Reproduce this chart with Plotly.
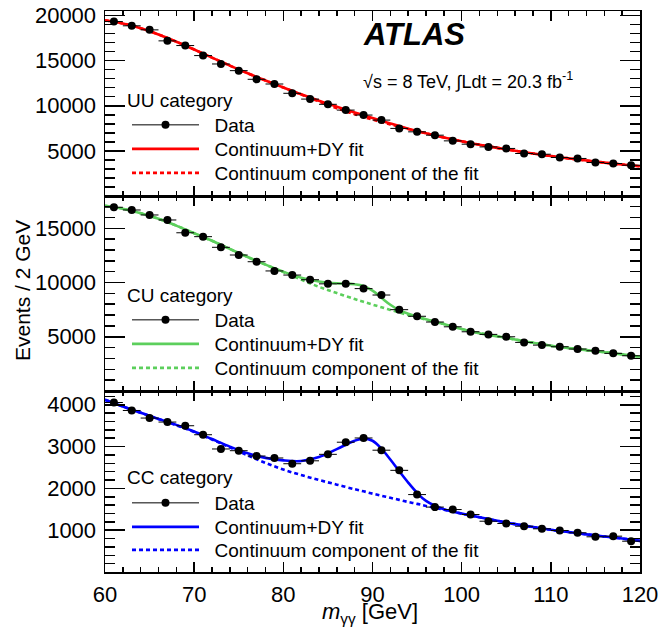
import plotly.graph_objects as go
from plotly.subplots import make_subplots

# ---------------- data ----------------
mass = [61, 63, 65, 67, 69, 71, 73, 75, 77, 79, 81, 83, 85, 87, 89,
        91, 93, 95, 97, 99, 101, 103, 105, 107, 109, 111, 113, 115, 117, 119]

uu_data = [19330, 18860, 18410, 17190, 16670, 15560, 14630, 13890, 12930, 12410,
           11380, 10740, 10160, 9520, 8970, 8410, 7490, 7110, 6740, 6110,
           5740, 5440, 5270, 4710, 4630, 4270, 4160, 3710, 3600, 3410]
cu_data = [16940, 16690, 16230, 15770, 14590, 14230, 13250, 12540, 11920, 11070,
           10690, 10260, 9880, 9900, 9440, 8850, 7500, 6890, 6360, 5920,
           5460, 5220, 5000, 4480, 4230, 4080, 3870, 3710, 3470, 3250]
cc_data = [4055, 3864, 3683, 3587, 3499, 3284, 2943, 2902, 2775, 2728,
           2590, 2660, 2815, 3105, 3206, 2914, 2432, 1852, 1553, 1494,
           1375, 1215, 1160, 1095, 1033, 993, 938, 842, 857, 737]

fit_mass = [60, 62, 64, 66, 68, 70, 72, 74, 76, 78, 80, 82, 84, 86, 88,
            89, 90, 91, 92, 93, 94, 95, 96,
            98, 100, 102, 104, 106, 108, 110, 112, 114, 116, 118, 120]

uu_fit = [19480, 19120, 18600, 17900, 17100, 16230, 15330, 14450, 13600, 12800,
          12030, 11270, 10560, 9900, 9260, 8950, 8640, 8340, 8040, 7750, 7460, 7200, 6950,
          6480, 6060, 5680, 5330, 5010, 4710, 4430, 4170, 3930, 3700, 3490, 3290]
uu_cont = [19480, 19120, 18600, 17900, 17100, 16230, 15330, 14450, 13600, 12800,
           12030, 11240, 10480, 9720, 9060, 8760, 8470, 8200, 7930, 7670, 7420, 7180, 6950,
           6480, 6060, 5680, 5330, 5010, 4710, 4430, 4170, 3930, 3700, 3490, 3290]

cu_fit = [17080, 16800, 16400, 15880, 15250, 14550, 13850, 13100, 12350, 11650,
          11000, 10450, 10100, 9930, 9850, 9680, 9250, 8600, 7950, 7450, 7120, 6860, 6620,
          6170, 5720, 5330, 5050, 4750, 4450, 4170, 3960, 3770, 3580, 3380, 3160]
cu_cont = [17080, 16800, 16400, 15880, 15250, 14550, 13850, 13100, 12350, 11650,
           10960, 10270, 9600, 9030, 8480, 8220, 7970, 7720, 7480, 7240, 7010, 6790, 6580,
           6170, 5720, 5330, 5050, 4750, 4450, 4170, 3960, 3770, 3580, 3380, 3160]

cc_fit = [4120, 3960, 3810, 3660, 3520, 3360, 3180, 3000, 2840, 2730,
          2670, 2655, 2750, 2940, 3140, 3190, 3140, 2950, 2690, 2410, 2140, 1895, 1700,
          1500, 1400, 1310, 1225, 1145, 1075, 1010, 955, 900, 850, 800, 745]
cc_cont = [4120, 3960, 3810, 3660, 3510, 3350, 3170, 2980, 2790, 2610,
           2450, 2320, 2200, 2090, 1980, 1930, 1875, 1825, 1775, 1725, 1675, 1630, 1580,
           1490, 1395, 1310, 1225, 1145, 1075, 1010, 955, 900, 850, 800, 745]

categories = ["UU category", "CU category", "CC category"]
colors = ["#ff0000", "#5ccf5c", "#0000ff"]
y_ranges = [[0, 20500], [0, 17980], [0, 4330]]
y_ticks = [[5000, 10000, 15000, 20000], [5000, 10000, 15000], [1000, 2000, 3000, 4000]]
y_minor = [1000, 1000, 200]
x_ticks = [60, 70, 80, 90, 100, 110, 120]

# ---------------- figure ----------------
W, H = 659, 631
PX0, PX1, PY0, PY1 = 105, 640, 11, 572
L, R, T, B = PX0, W - PX1, PY0, H - PY1
pw, ph = PX1 - PX0, PY1 - PY0
FONT = "Liberation Sans"

def px_x(p):
    return (p - PX0) / pw

def px_y(p):
    return (PY1 - p) / ph

fig = make_subplots(rows=3, cols=1, shared_xaxes=True, vertical_spacing=0)

datas = [uu_data, cu_data, cc_data]
fits = [uu_fit, cu_fit, cc_fit]
conts = [uu_cont, cu_cont, cc_cont]
legend_rows = [[125, 149, 173], [320, 344, 368], [503, 527, 550]]
title_rows = [100, 295, 477]

legend_layout = {}
for i in range(3):
    r = i + 1
    lg = [f"legend{3*i+k+1}" if 3*i+k > 0 else "legend" for k in range(3)]
    fig.add_trace(go.Scatter(x=fit_mass, y=conts[i], mode="lines",
                             line=dict(color=colors[i], width=2.6, dash="4px,3px", shape="spline", smoothing=1.0),
                             name="\u00a0\u00a0Continuum component of the fit", legend=lg[2]), row=r, col=1)
    fig.add_trace(go.Scatter(x=fit_mass, y=fits[i], mode="lines",
                             line=dict(color=colors[i], width=2.6, shape="spline", smoothing=1.0),
                             name="\u00a0\u00a0Continuum+DY fit", legend=lg[1]), row=r, col=1)
    fig.add_trace(go.Scatter(x=mass, y=datas[i], mode="markers",
                             marker=dict(color="black", size=8),
                             error_x=dict(type="constant", value=1, thickness=1, width=0, color="black"),
                             showlegend=False), row=r, col=1)
    fig.add_trace(go.Scatter(x=[None], y=[None], mode="lines+markers",
                             marker=dict(color="black", size=8),
                             line=dict(color="black", width=1),
                             name="\u00a0\u00a0Data", legend=lg[0]), row=r, col=1)
    for k in range(3):
        legend_layout[lg[k]] = dict(
            x=px_x(127), y=px_y(legend_rows[i][k]), xanchor="left", yanchor="middle",
            bgcolor="rgba(0,0,0,0)", borderwidth=0, itemwidth=67,
            font=dict(family=FONT, size=19, color="black"),
            traceorder="normal")
    fig.add_annotation(x=px_x(125), y=px_y(title_rows[i]), xref="paper", yref="paper",
                       text=categories[i], showarrow=False, xanchor="left", yanchor="middle",
                       font=dict(family=FONT, size=19, color="black"))

fig.update_layout(**legend_layout)

domains = [[px_y(196), 1.0], [px_y(391), px_y(196)], [0.0, px_y(391)]]
for i in range(3):
    yname = "yaxis" if i == 0 else f"yaxis{i+1}"
    xname = "xaxis" if i == 0 else f"xaxis{i+1}"
    fig.layout[yname].update(
        domain=domains[i], range=y_ranges[i], tickmode="array", tickvals=y_ticks[i],
        ticktext=[str(v) for v in y_ticks[i]],
        ticks="inside", ticklen=20, tickwidth=1.5, tickcolor="black",
        minor=dict(ticks="inside", ticklen=10, tickwidth=1.5, tickcolor="black",
                   tickmode="linear", tick0=0, dtick=y_minor[i]),
        showline=True, linewidth=1.5, linecolor="black", mirror="ticks",
        showgrid=False, zeroline=False, ticklabelstandoff=3, automargin=False,
        ticklabeloverflow="allow",
        tickfont=dict(family=FONT, size=22, color="black"))
    fig.layout[xname].update(
        range=[60, 120], tickmode="array", tickvals=x_ticks,
        ticks="inside", ticklen=10, tickwidth=1.5, tickcolor="black",
        minor=dict(ticks="inside", ticklen=5, tickwidth=1.5, tickcolor="black",
                   tickmode="linear", tick0=60, dtick=2),
        showline=True, linewidth=1.5, linecolor="black", mirror="ticks",
        showgrid=False, zeroline=False, automargin=False, ticklabelstandoff=2,
        ticklabeloverflow="allow",
        tickfont=dict(family=FONT, size=22, color="black"))

fig.add_annotation(x=px_x(361), y=px_y(35), xref="paper", yref="paper",
                   text="<b><i>ATLAS</i></b>", showarrow=False, xanchor="left", yanchor="middle",
                   font=dict(family=FONT, size=31, color="black"))
fig.add_annotation(x=px_x(361), y=px_y(80), xref="paper", yref="paper",
                   text="\u221as = 8 TeV, \u222bLdt = 20.3 fb<sup>-1</sup>", showarrow=False,
                   xanchor="left", yanchor="middle",
                   font=dict(family=FONT, size=18, color="black"))
fig.add_annotation(x=px_x(22), y=px_y(291), xref="paper", yref="paper",
                   text="Events / 2 GeV", showarrow=False, textangle=-90,
                   xanchor="center", yanchor="middle",
                   font=dict(family=FONT, size=21, color="black"))
fig.add_annotation(x=px_x(370), y=px_y(613), xref="paper", yref="paper",
                   text="<i>m</i><sub>\u03b3\u03b3</sub> [GeV]", showarrow=False,
                   xanchor="center", yanchor="middle",
                   font=dict(family=FONT, size=22, color="black"))

fig.update_layout(width=W, height=H, margin=dict(l=L, r=R, t=T, b=B, autoexpand=False),
                  paper_bgcolor="white", plot_bgcolor="white", hovermode=False)

# remove the browser's default 8px page margin so the figure fills the window
fig.write_html("out.html", config={"displayModeBar": False, "staticPlot": True},
               post_script="document.body.style.margin='0px';document.body.style.overflow='hidden';")
